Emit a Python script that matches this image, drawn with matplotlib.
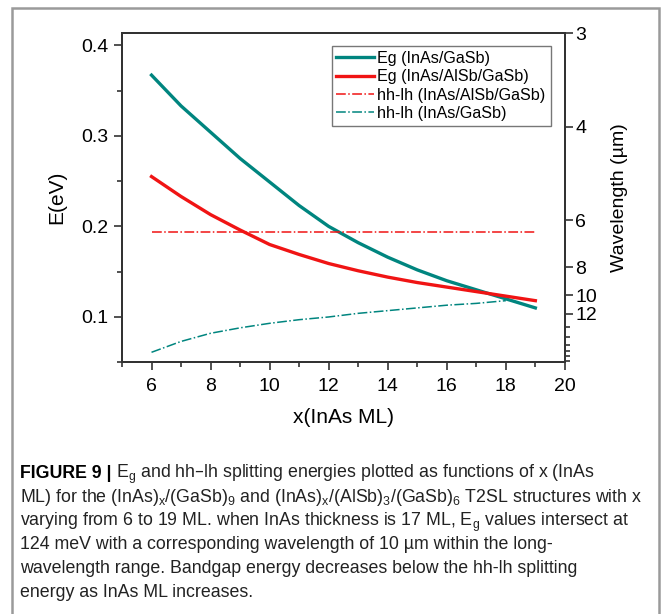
import matplotlib
matplotlib.use('Agg')
import matplotlib.pyplot as plt
from matplotlib.patches import Rectangle
import numpy as np

plt.rcParams['font.family'] = ['Liberation Sans', 'DejaVu Sans']

# data
x_ml = [6, 7, 8, 9, 10, 11, 12, 13, 14, 15, 16, 17, 18, 19]
eg_gasb = [0.367, 0.333, 0.304, 0.275, 0.249, 0.223, 0.200, 0.182, 0.166, 0.152, 0.140, 0.130, 0.120, 0.110]
eg_alsb = [0.255, 0.233, 0.213, 0.196, 0.180, 0.169, 0.159, 0.151, 0.144, 0.138, 0.133, 0.128, 0.123, 0.118]
hhlh_alsb = [0.194] * 14
x_hhlh_gasb = [6, 7, 8, 9, 10, 11, 12, 13, 14, 15, 16, 17, 18]
hhlh_gasb = [0.061, 0.073, 0.082, 0.088, 0.093, 0.097, 0.100, 0.104, 0.107, 0.110, 0.113, 0.115, 0.118]

wl_major = [3, 4, 6, 8, 10, 12]
wl_minor = [14, 16, 18, 20, 22, 24]

teal = '#00857f'
red = '#f01414'

fig = plt.figure(figsize=(6.63, 6.14), dpi=100)
ax = fig.add_axes([0.184, 0.41, 0.668, 0.536])

ax.plot(x_ml, eg_gasb, color=teal, lw=2.4, label='Eg (InAs/GaSb)')
ax.plot(x_ml, eg_alsb, color=red, lw=2.4, label='Eg (InAs/AlSb/GaSb)')
ax.plot(x_ml, hhlh_alsb, color=red, lw=1.1, ls='-.', label='hh-lh (InAs/AlSb/GaSb)')
ax.plot(x_hhlh_gasb, hhlh_gasb, color=teal, lw=1.1, ls='-.', label='hh-lh (InAs/GaSb)')

ax.set_xlim(5, 20)
ax.set_ylim(0.05, 1.24 / 3)
ax.set_xticks([6, 8, 10, 12, 14, 16, 18, 20])
ax.set_xticks(np.arange(5, 21, 1), minor=True)
ax.set_yticks([0.1, 0.2, 0.3, 0.4])
ax.set_yticks([0.05, 0.15, 0.25, 0.35], minor=True)
ax.set_yticklabels(['0.1', '0.2', '0.3', '0.4'])
ax.tick_params(which='both', direction='out', labelsize=14, width=1.2, color='#333333')
ax.tick_params(which='major', length=6)
ax.tick_params(which='minor', length=3.5)
ax.tick_params(axis='x', pad=5)
for s in ax.spines.values():
    s.set_linewidth(1.4)
    s.set_color('#333333')
ax.set_xlabel('x(InAs ML)', fontsize=15, labelpad=10)
ax.set_ylabel('E(eV)', fontsize=15, labelpad=11)

ax2 = ax.twinx()
ax2.set_ylim(ax.get_ylim())
ax2.set_yticks([1.24 / w for w in wl_major])
ax2.set_yticklabels([str(w) for w in wl_major])
ax2.set_yticks([1.24 / w for w in wl_minor], minor=True)
ax2.tick_params(which='both', direction='out', labelsize=14, width=1.2, color='#333333', pad=1.5)
ax2.tick_params(which='major', length=6)
ax2.tick_params(which='minor', length=3.5)
for s in ax2.spines.values():
    s.set_linewidth(1.4)
    s.set_color('#333333')
ax2.set_ylabel('Wavelength (\u00b5m)', fontsize=14, labelpad=10)

leg = ax.legend(loc='upper right', bbox_to_anchor=(0.975, 0.97), fontsize=11.6,
                handlelength=2.35, handletextpad=0.2, labelspacing=0.2,
                borderpad=0.3, borderaxespad=0.2, fancybox=False, framealpha=1)
leg.get_frame().set_edgecolor('#777777')
leg.get_frame().set_linewidth(1.0)

# outer frame
fig.patches.append(Rectangle((12 / 663, -0.05), 647 / 663, 1.05 - 8 / 614,
                             transform=fig.transFigure, fill=False,
                             edgecolor='#9a9a9a', lw=1.8))

# caption
cap_font = ['Liberation Sans Narrow', 'Liberation Sans', 'DejaVu Sans']
cap_size = 12.8
x0 = 20 / 663
y_lines = [1 - (478 + 23.8 * i) / 614 for i in range(6)]
t = fig.text(x0, y_lines[0], 'FIGURE 9 | ', fontsize=cap_size, fontweight='bold',
             family=cap_font, va='baseline')
fig.canvas.draw()
bb = t.get_window_extent(fig.canvas.get_renderer())
x1 = bb.x1 / fig.bbox.width
caption = [
    'E$_\\mathregular{g}$ and hh\u2013lh splitting energies plotted as functions of x (InAs',
    r'ML) for the (InAs)$_\mathregular{x}$/(GaSb)$_\mathregular{9}$ and (InAs)$_\mathregular{x}$/(AlSb)$_\mathregular{3}$/(GaSb)$_\mathregular{6}$ T2SL structures with x',
    r'varying from 6 to 19 ML. when InAs thickness is 17 ML, E$_\mathregular{g}$ values intersect at',
    '124 meV with a corresponding wavelength of 10 \u00b5m within the long-',
    'wavelength range. Bandgap energy decreases below the hh-lh splitting',
    'energy as InAs ML increases.',
]
for i, line in enumerate(caption):
    fig.text(x1 if i == 0 else x0, y_lines[i], line, fontsize=cap_size,
             family=cap_font, va='baseline', color='#222222')

fig.savefig('out.png', dpi=100)
